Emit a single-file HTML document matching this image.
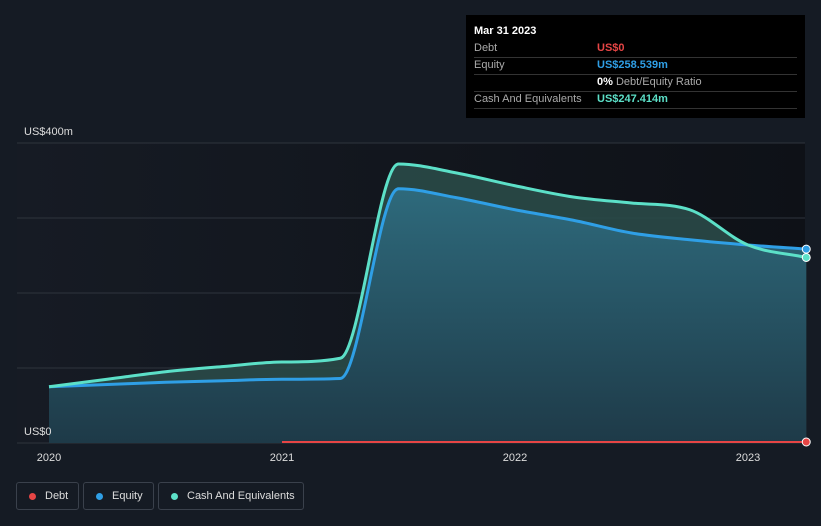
<!DOCTYPE html>
<html><head><meta charset="utf-8"><style>
body{margin:0;background:#151b24;font-family:"Liberation Sans",sans-serif;}
#wrap{position:relative;width:821px;height:526px;overflow:hidden;background:#151b24;}
.tt{position:absolute;left:466px;top:15px;width:339px;height:103px;background:#000;color:#fff;font-size:11px;}
.tt .row{position:absolute;left:8px;right:8px;height:17px;border-bottom:1px solid #333;}
.tt .k{position:absolute;left:0;top:2px;color:#aaa;}
.tt .v{position:absolute;left:123px;top:2px;font-weight:bold;}
.leg{position:absolute;top:482px;height:28px;border:1px solid #3a414c;border-radius:3px;color:#ddd;font-size:11px;box-sizing:border-box;}
.leg span.d{position:absolute;left:12px;top:10px;width:7px;height:7px;border-radius:50%;}
.leg span.t{position:absolute;left:28px;top:7px;}
</style></head><body>
<div id="wrap">
<svg id="chart" width="821" height="526" style="position:absolute;left:0;top:0">
<defs>
<linearGradient id="bg" x1="0" x2="1" y1="0" y2="0"><stop offset="0" stop-color="#161b24"/><stop offset="1" stop-color="#0e1117"/></linearGradient>
<linearGradient id="eqf" x1="0" x2="0" y1="0" y2="1"><stop offset="0" stop-color="#2e6a7c"/><stop offset="1" stop-color="#1e3a48"/></linearGradient>
</defs>
<rect x="17" y="143" width="788" height="300" fill="url(#bg)"/>
<g id="grid"></g>
<g id="marks"></g>
<g id="xaxis"></g>
<text x="24" y="135" fill="#ddd" font-size="11">US$400m</text>
<text x="24" y="435" fill="#ddd" font-size="11">US$0</text>
</svg>
<div class="tt">
<div style="position:absolute;left:8px;top:10px;font-size:11px;font-weight:bold">Mar 31 2023</div>
<div class="row" style="top:25px"><span class="k">Debt</span><span class="v" style="color:#e64545">US$0</span></div>
<div class="row" style="top:42px"><span class="k">Equity</span><span class="v" style="color:#2f9fe6">US$258.539m</span></div>
<div class="row" style="top:59px"><span class="v" style="color:#fff">0% <span style="color:#aaa;font-weight:normal">Debt/Equity Ratio</span></span></div>
<div class="row" style="top:76px"><span class="k">Cash And Equivalents</span><span class="v" style="color:#5ce0c8">US$247.414m</span></div>
</div>
<div class="leg" style="left:16px;width:63px"><span class="d" style="background:#e64545"></span><span class="t">Debt</span></div>
<div class="leg" style="left:83px;width:71px"><span class="d" style="background:#2f9fe6"></span><span class="t">Equity</span></div>
<div class="leg" style="left:158px;width:146px"><span class="d" style="background:#5ce0c8"></span><span class="t">Cash And Equivalents</span></div>
</div>
<script>
const dates=[2020,2020.25,2020.5,2020.75,2021,2021.25,2021.5,2021.75,2022,2022.25,2022.5,2022.75,2023,2023.25];
const equity=[75,78,81,83,85,86,339,327,311,297,280,271,264,258.5];
const cash=[75,85,95,102,108,113,372,360,343,328,320,311,264,247.4];
const debtDates=[2021,2021.25,2021.5,2021.75,2022,2022.25,2022.5,2022.75,2023,2023.25];
const debt=[0,0,0,0,0,0,0,0,0,0];
const yTicks=[0,100,200,300,400];
const xTicks=[2020,2021,2022,2023];
const xs=d=>49+(d-2020)*233;
const ys=v=>443-v*0.75;
const NS='http://www.w3.org/2000/svg';
function mk(tag,attrs,parent){const e=document.createElementNS(NS,tag);for(const k in attrs)e.setAttribute(k,attrs[k]);parent.appendChild(e);return e;}
function path(px,py){
  const n=px.length;const m=[];const d=[];
  for(let i=0;i<n-1;i++)d.push((py[i+1]-py[i])/(px[i+1]-px[i]));
  for(let i=0;i<n;i++){if(i==0)m.push(d[0]);else if(i==n-1)m.push(d[n-2]);else m.push(d[i-1]*d[i]<=0?0:(d[i-1]+d[i])/2);}
  for(let i=0;i<n-1;i++){if(d[i]==0){m[i]=0;m[i+1]=0;continue;}const a=m[i]/d[i],b=m[i+1]/d[i];const s=a*a+b*b;if(s>9){const t=3/Math.sqrt(s);m[i]=t*a*d[i];m[i+1]=t*b*d[i];}}
  let s='M'+px[0]+','+py[0];
  for(let i=0;i<n-1;i++){const h=(px[i+1]-px[i])/3;s+=' C'+(px[i]+h)+','+(py[i]+m[i]*h)+' '+(px[i+1]-h)+','+(py[i+1]-m[i+1]*h)+' '+px[i+1]+','+py[i+1];}
  return s;
}
const grid=document.getElementById('grid'),marks=document.getElementById('marks'),xa=document.getElementById('xaxis');
yTicks.forEach(t=>{const l=mk('line',{x1:17,x2:805,y1:ys(t),y2:ys(t),stroke:'#2e343d','stroke-width':1},grid);

});
xTicks.forEach(t=>{const tx=mk('text',{x:xs(t),y:461,fill:'#ddd','font-size':11,'text-anchor':'middle'},xa);tx.textContent=t;

});
const px=dates.map(xs),cy=cash.map(ys),ey=equity.map(ys);
const base=' L'+px[px.length-1]+','+ys(0)+' L'+px[0]+','+ys(0)+' Z';
const ca=mk('path',{d:path(px,cy)+base,fill:'#2a4a48',opacity:0.9},marks);


const ea=mk('path',{d:path(px,ey)+base,fill:'url(#eqf)'},marks);


const el=mk('path',{d:path(px,ey),fill:'none',stroke:'#2f9fe6','stroke-width':3},marks);


const cl=mk('path',{d:path(px,cy),fill:'none',stroke:'#5ce0c8','stroke-width':3},marks);


const dpx=debtDates.map(xs),dpy=debt.map(v=>ys(v)-1);
const dl=mk('path',{d:path(dpx,dpy),fill:'none',stroke:'#e64545','stroke-width':2},marks);


[[equity,'#2f9fe6','equity-end-point',dates],[cash,'#5ce0c8','cash-end-point',dates],[debt,'#e64545','debt-end-point',debtDates]].forEach(([arr,c,n,dd])=>{
const p=mk('circle',{cx:xs(dd[dd.length-1]),cy:ys(arr[arr.length-1])-(n=='debt-end-point'?1:0),r:4,fill:c,stroke:'#fff','stroke-width':1},marks);

});
</script>
</body></html>
